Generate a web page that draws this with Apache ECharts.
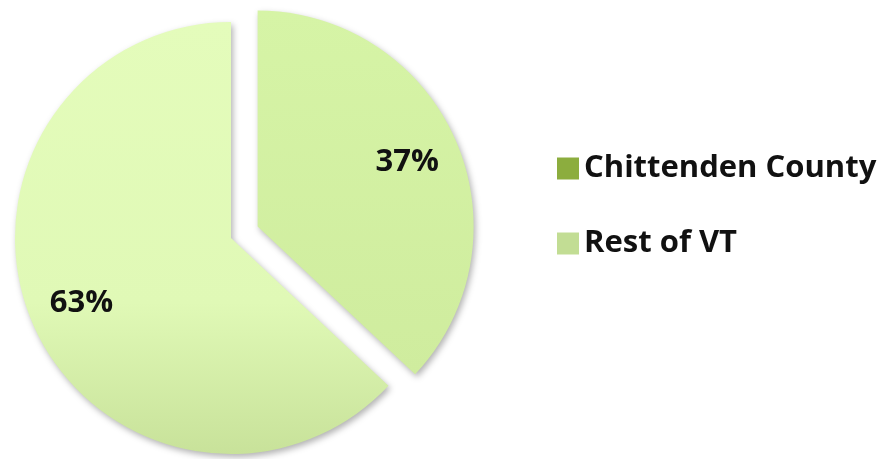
<!DOCTYPE html>
<html>
<head>
<meta charset="utf-8">
<script src="https://cdn.jsdelivr.net/npm/echarts@6/dist/echarts.min.js"></script>
<style>
  html, body { margin: 0; padding: 0; background: #fff; }
  #chart { width: 887px; height: 459px; }
</style>
</head>
<body>
<div id="chart"></div>
<script>
var categories = ["Chittenden County", "Rest of VT"];
var shares = [37, 63];
var legendColors = ["#8cad3e", "#c2dd94"];

var sliceFills = [
  new echarts.graphic.LinearGradient(0, 0, 0, 1, [
    { offset: 0, color: "#d6f4a6" },
    { offset: 1, color: "#cfec9e" }
  ]),
  new echarts.graphic.LinearGradient(0, 0, 0, 1, [
    { offset: 0, color: "#e4fcbb" },
    { offset: 0.65, color: "#e0f9b6" },
    { offset: 1, color: "#c8e29a" }
  ])
];

var myChart = echarts.init(document.getElementById("chart"));

var pieData = categories.map(function (name, i) {
  return {
    name: name,
    value: shares[i],
    selected: i === 0,
    itemStyle: { color: sliceFills[i] }
  };
});

var labelData = categories.map(function (name, i) {
  return { name: name, value: shares[i], selected: i === 0 };
});

var textFont = {
  fontFamily: "Open Sans",
  fontWeight: "bold",
  fontSize: 31,
  color: "#111"
};

myChart.setOption({
  animation: false,
  legend: {
    orient: "vertical",
    left: 552,
    top: 148,
    itemWidth: 22,
    itemHeight: 22,
    itemGap: 44,
    icon: "rect",
    selectedMode: false,
    textStyle: textFont,
    data: categories.map(function (name, i) {
      return { name: name, itemStyle: { color: legendColors[i] } };
    })
  },
  series: [
    {
      type: "pie",
      center: [231, 238],
      radius: [0, 216],
      startAngle: 90,
      selectedMode: "single",
      selectedOffset: 29,
      silent: true,
      label: { show: false },
      labelLine: { show: false },
      itemStyle: {
        shadowBlur: 6,
        shadowOffsetX: 2,
        shadowOffsetY: 3,
        shadowColor: "rgba(0,0,0,0.3)"
      },
      data: pieData
    },
    {
      type: "pie",
      center: [231, 238],
      radius: [104, 216],
      startAngle: 90,
      selectedMode: "single",
      selectedOffset: 29,
      silent: true,
      itemStyle: { color: "rgba(0,0,0,0)" },
      label: Object.assign({
        show: true,
        position: "inside",
        formatter: "{c}%"
      }, textFont),
      labelLine: { show: false },
      data: labelData
    }
  ]
});
</script>
</body>
</html>
